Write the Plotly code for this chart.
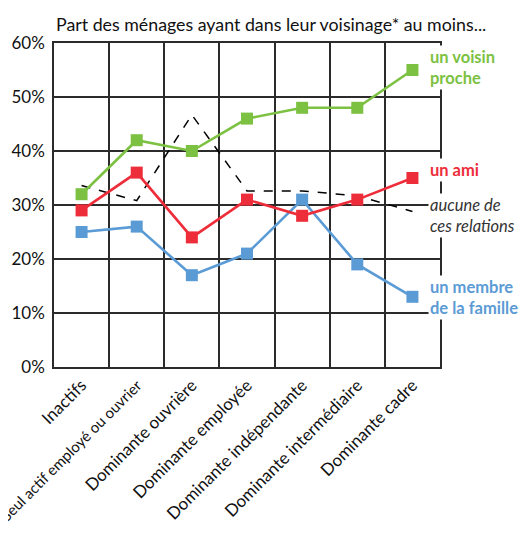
import plotly.graph_objects as go

categories = ["Inactifs", "Seul actif employé ou ouvrier", "Dominante ouvrière",
              "Dominante employée", "Dominante indépendante",
              "Dominante intermédiaire", "Dominante cadre"]
voisin = [32, 42, 40, 46, 48, 48, 55]
ami = [29, 36, 24, 31, 28, 31, 35]
famille = [25, 26, 17, 21, 31, 19, 13]
aucune = [33.6, 30.8, 46.7, 32.6, 32.6, 31.7, 28.8]
yticks = [0, 10, 20, 30, 40, 50, 60]
ytick_text = [f"{v}%" for v in yticks]

FONT = "Lato"
GREEN = "#7CC142"
RED = "#EE2D3A"
BLUE = "#5B9BD5"

fig = go.Figure()
fig.add_trace(go.Scatter(x=categories, y=aucune, mode="lines",
                         line=dict(color="black", width=1.5, dash="dash")))
fig.add_trace(go.Scatter(x=categories, y=famille, mode="lines+markers",
                         line=dict(color=BLUE, width=2.6),
                         marker=dict(symbol="square", size=12, color=BLUE)))
fig.add_trace(go.Scatter(x=categories, y=ami, mode="lines+markers",
                         line=dict(color=RED, width=2.6),
                         marker=dict(symbol="square", size=12, color=RED)))
fig.add_trace(go.Scatter(x=categories, y=voisin, mode="lines+markers",
                         line=dict(color=GREEN, width=2.6),
                         marker=dict(symbol="square", size=12, color=GREEN)))

ann = [
    ("un voisin<br>proche", 55.4, GREEN, True, False),
    ("un ami", 36.5, RED, True, False),
    ("aucune de<br>ces relations", 28.0, "#333333", False, True),
    ("un membre<br>de la famille", 12.9, BLUE, True, False),
]
annotations = []
for text, y, col, bold, ital in ann:
    t = text
    if bold:
        t = "<b>" + t.replace("<br>", "</b><br><b>") + "</b>"
    if ital:
        t = "<i>" + t.replace("<br>", "</i><br><i>") + "</i>"
    annotations.append(dict(x=0.968, xref="paper", y=y, yref="y", text=t,
                            showarrow=False, xanchor="left", yanchor="middle",
                            align="left", bgcolor="white",
                            font=dict(family=FONT, size=16.5, color=col)))
annotations.append(dict(x=0.0, xref="paper", y=1.02, yref="paper", yanchor="bottom",
                        xanchor="left", showarrow=False,
                        text="Part des ménages ayant dans leur voisinage* au moins...",
                        font=dict(family=FONT, size=17.8, color="#111111")))

tick_text = [c if len(c) < 25 else f"<span style='font-size:15px'>{c}</span>"
             for c in categories]

fig.update_layout(
    width=527, height=536,
    margin=dict(l=46, r=95, t=35, b=177, autoexpand=False),
    paper_bgcolor="white", plot_bgcolor="white",
    showlegend=False,
    annotations=annotations,
    font=dict(family=FONT, size=16, color="#111111"),
)
fig.update_xaxes(type="category", range=[-0.5, 6.5], tickson="boundaries",
                 tickvals=categories, ticktext=tick_text,
                 showgrid=True, gridcolor="#2b2b2b", gridwidth=1.5,
                 showline=True, linecolor="#2b2b2b", linewidth=1.5, mirror=True,
                 ticks="", tickangle=-45, tickfont=dict(family=FONT, size=17),
                 automargin=False)
fig.update_yaxes(range=[0, 60], tickvals=yticks, ticktext=ytick_text,
                 showgrid=True, gridcolor="#2b2b2b", gridwidth=1.5,
                 showline=True, linecolor="#2b2b2b", linewidth=1.5, mirror=True,
                 ticks="", zeroline=False, tickfont=dict(family=FONT, size=17),
                 ticklabelstandoff=4, automargin=False)

fig.write_html("out.html")
